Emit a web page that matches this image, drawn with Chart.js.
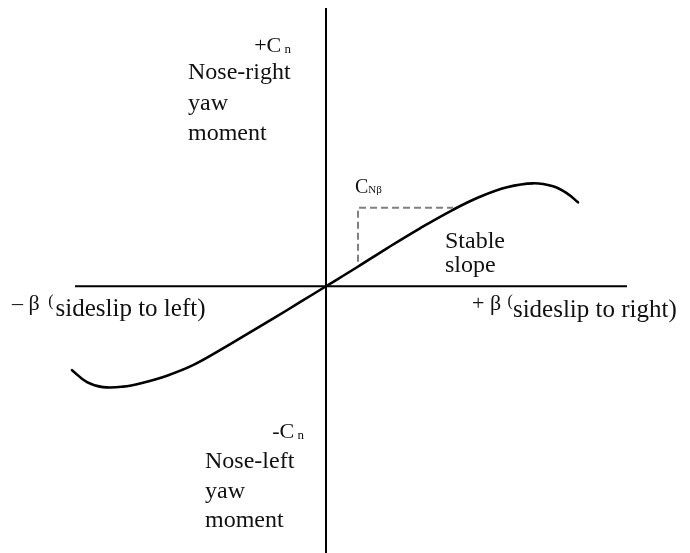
<!DOCTYPE html>
<html>
<head>
<meta charset="utf-8">
<script src="https://cdn.jsdelivr.net/npm/chart.js@4/dist/chart.umd.min.js"></script>
<style>
  html, body { margin: 0; padding: 0; background: #ffffff; }
  #wrap { width: 690px; height: 553px; position: relative; }
</style>
</head>
<body>
<div id="wrap"><canvas id="c" width="690" height="553"></canvas></div>
<script>
// ---- Data (sideslip angle beta vs yaw moment coefficient Cn, arbitrary units) ----
const betaValues = [-25.4, -23.9, -22.3, -20.3, -18.3, -15.9, -13.3, -10.6, -7.9, -5.3, -2.6, 0,
                    3.1, 6.1, 9.4, 12.7, 15.4, 18.1, 20.7, 22.7, 24.1, 25.2];
const cnValues   = [-8.4, -9.6, -10.1, -10.05, -9.65, -8.95, -7.9, -6.4, -4.8, -3.25, -1.6, 0,
                    1.9, 3.8, 5.8, 7.65, 8.95, 9.9, 10.3, 10.0, 9.3, 8.4];
// Stable slope (C_N beta) construction lines
const slopeBeta = [3.2, 3.2, 12.7];
const slopeCn   = [2.45, 7.85, 7.85];
// Axis extents
const betaAxisExtent = [-25.1, 30.1];
const cnAxisExtent   = [-26.7, 27.85];
// Scale ranges
const betaRange = [-32.6, 36.4];
const cnRange   = [-26.7, 28.65];

const pts = (xs, ys) => xs.map((x, i) => ({ x: x, y: ys[i] }));

const FONT = '"Liberation Serif", "Times New Roman", serif';
const labels = [
  { x: 291, y: 52, align: 'right', runs: [{ t: '+C', s: 22 }, { t: ' n', s: 13, dy: 1 }] },
  { x: 188, y: 79, runs: [{ t: 'Nose-right', s: 24 }] },
  { x: 188, y: 110, runs: [{ t: 'yaw', s: 24 }] },
  { x: 188, y: 140, runs: [{ t: 'moment', s: 24 }] },
  { x: 304, y: 438, align: 'right', runs: [{ t: '-C', s: 22 }, { t: ' n', s: 13, dy: 1 }] },
  { x: 205, y: 468, runs: [{ t: 'Nose-left', s: 24 }] },
  { x: 205, y: 498, runs: [{ t: 'yaw', s: 24 }] },
  { x: 205, y: 527, runs: [{ t: 'moment', s: 24 }] },
  { x: 355, y: 193, runs: [{ t: 'C', s: 20 }, { t: 'Nβ', s: 11 }] },
  { x: 445, y: 248, runs: [{ t: 'Stable', s: 24 }] },
  { x: 445, y: 272, runs: [{ t: 'slope', s: 24 }] },
  { x: 12, y: 310, runs: [{ t: '– β ', s: 22 }, { t: '(', s: 16, dy: -4, dx: 3 }, { t: 'sideslip to left)', s: 25, dy: 6, dx: 2 }] },
  { x: 472, y: 310, runs: [{ t: '+ β ', s: 22 }, { t: '(', s: 16, dy: -4, dx: 1 }, { t: 'sideslip to right)', s: 25, dy: 7 }] }
];

const textPlugin = {
  id: 'texts',
  afterDatasetsDraw(chart) {
    const ctx = chart.ctx;
    ctx.save();
    ctx.fillStyle = '#111111';
    ctx.textBaseline = 'alphabetic';
    ctx.textAlign = 'left';
    labels.forEach(l => {
      let w = 0;
      l.runs.forEach(r => { ctx.font = r.s + 'px ' + FONT; w += ctx.measureText(r.t).width + (r.dx || 0); });
      let x = l.align === 'right' ? l.x - w : l.x;
      l.runs.forEach(r => {
        ctx.font = r.s + 'px ' + FONT;
        x += (r.dx || 0);
        ctx.fillText(r.t, x, l.y + (r.dy || 0));
        x += ctx.measureText(r.t).width;
      });
    });
    ctx.restore();
  }
};

new Chart(document.getElementById('c'), {
  type: 'scatter',
  data: {
    datasets: [
      { data: pts(betaAxisExtent, [0, 0]), showLine: true, borderColor: '#000', borderWidth: 2, pointRadius: 0, tension: 0 },
      { data: pts([0, 0], cnAxisExtent), showLine: true, borderColor: '#000', borderWidth: 2, pointRadius: 0, tension: 0 },
      { data: pts(slopeBeta, slopeCn), showLine: true, borderColor: '#808080', borderWidth: 2, borderDash: [7, 4], pointRadius: 0, tension: 0 },
      { data: pts(betaValues, cnValues), showLine: true, borderColor: '#000', borderWidth: 2.6, pointRadius: 0, tension: 0.4, borderCapStyle: 'round', borderJoinStyle: 'round' }
    ]
  },
  options: {
    responsive: false,
    animation: false,
    layout: { padding: 0 },
    plugins: { legend: { display: false }, tooltip: { enabled: false } },
    scales: {
      x: { type: 'linear', min: betaRange[0], max: betaRange[1], display: false },
      y: { type: 'linear', min: cnRange[0], max: cnRange[1], display: false }
    }
  },
  plugins: [textPlugin]
});
</script>
</body>
</html>
